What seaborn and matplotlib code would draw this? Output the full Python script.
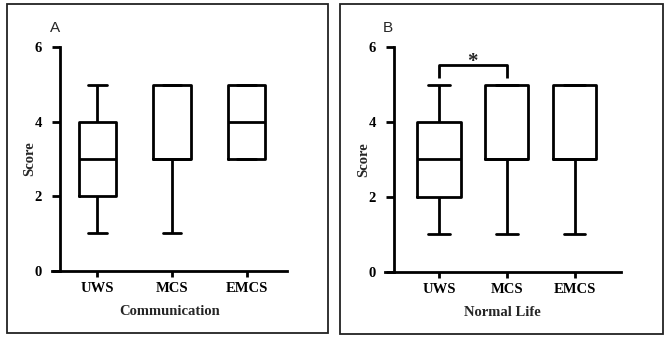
import pandas as pd
import matplotlib
matplotlib.use("Agg")
from matplotlib import pyplot as plt
from matplotlib.patches import Rectangle
import seaborn as sns

groups = ["UWS", "MCS", "EMCS"]

# scores per group (min, q1, median, q3, max)
comm_uws = [1, 2, 3, 4, 5]
comm_mcs = [1, 3, 3, 5, 5]
comm_emcs = [3, 3, 4, 5, 5]

life_uws = [1, 2, 3, 4, 5]
life_mcs = [1, 3, 3, 5, 5]
life_emcs = [1, 3, 3, 5, 5]

y_ticks = [0, 2, 4, 6]


def long_df(*cols):
    rows = []
    for g, vals in zip(groups, cols):
        rows += [(g, v) for v in vals]
    return pd.DataFrame(rows, columns=["group", "score"])


sns.set_style("ticks")
plt.rcParams["font.family"] = ["Liberation Serif", "DejaVu Serif"]
plt.rcParams["font.weight"] = "bold"

fig = plt.figure(figsize=(6.69, 3.39), dpi=100)

# panel frames
fig.add_artist(Rectangle((0.0105, 0.0177), 0.4798, 0.9705, transform=fig.transFigure,
                         fill=False, edgecolor="#222222", lw=1.3))
fig.add_artist(Rectangle((0.5082, 0.0147), 0.4828, 0.9735, transform=fig.transFigure,
                         fill=False, edgecolor="#222222", lw=1.3))

panels = [
    dict(rect=[0.0773, 0.2015, 0.3513, 0.659], data=long_df(comm_uws, comm_mcs, comm_emcs),
         width=0.5, xlim=(-0.61, 2.535), spine_x=-0.5, xlabel="Communication", letter="A"),
    dict(rect=[0.575, 0.1985, 0.3528, 0.662], data=long_df(life_uws, life_mcs, life_emcs),
         width=0.64, xlim=(-0.80, 2.68), spine_x=-0.664, xlabel="Normal Life", letter="B"),
]

lw = 2.0
axes = []
for p in panels:
    ax = fig.add_axes(p["rect"])
    sns.boxplot(data=p["data"], x="group", y="score", order=groups, width=p["width"],
                whis=(0, 100), fill=False, color="black", linewidth=lw, ax=ax)
    ax.set_xlim(*p["xlim"])
    ax.set_ylim(0, 6)
    ax.set_yticks(y_ticks)
    ax.spines["top"].set_visible(False)
    ax.spines["right"].set_visible(False)
    ax.spines["left"].set_position(("data", p["spine_x"]))
    ax.spines["left"].set_bounds(0, 6)
    for s in ("left", "bottom"):
        ax.spines[s].set_linewidth(lw)
        ax.spines[s].set_color("black")
    ax.tick_params(axis="y", length=6, width=lw, pad=7, labelsize=10.5, colors="black")
    ax.tick_params(axis="x", length=4.3, width=lw, pad=4, labelsize=10.5, colors="black")
    ax.set_xlabel(p["xlabel"], fontsize=10.5, fontweight="bold", labelpad=7)
    ax.set_ylabel("Score", fontsize=10.5, fontweight="bold", labelpad=-1.5)
    x0 = p["rect"][0] - 1.7 / 669
    fig.text(x0, 1 - 32.5 / 339, p["letter"], family=["Liberation Sans", "DejaVu Sans"],
             fontweight="normal", fontsize=11, ha="left", va="baseline")
    axes.append(ax)

# significance bracket UWS vs MCS in panel B
axb = axes[1]
axb.plot([0, 0, 1, 1], [5.18, 5.53, 5.53, 5.18], color="black", lw=lw, solid_capstyle="butt")
axb.text(0.5, 5.62, "*", ha="center", va="center", fontsize=15, fontweight="bold")

fig.savefig("out.png", dpi=100)
